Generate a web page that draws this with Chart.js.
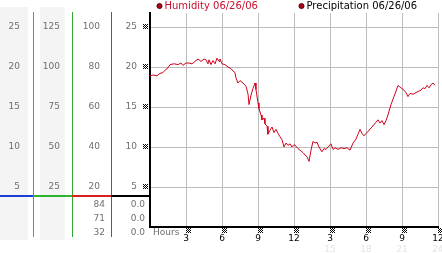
<!DOCTYPE html>
<html>
<head>
<meta charset="utf-8">
<script src="https://cdn.jsdelivr.net/npm/chart.js@4/dist/chart.umd.min.js"></script>
<style>
html,body{margin:0;padding:0;background:#fff;}
#wrap{width:442px;height:253px;position:relative;}
</style>
</head>
<body>
<div id="wrap"><canvas id="c" width="442" height="253"></canvas></div>
<script>
// ---- data ----
const hours = [0,0.25,0.58,0.83,1.08,1.25,1.5,1.67,2,2.33,2.58,2.75,3,3.25,3.5,3.75,4,4.25,4.5,4.67,4.83,4.92,5.08,5.25,5.42,5.58,5.75,5.83,6,6.25,6.5,6.75,6.92,7.08,7.17,7.33,7.5,7.75,8,8.17,8.25,8.42,8.58,8.75,8.83,9,9.08,9.25,9.33,9.5,9.58,9.75,9.83,10,10.17,10.33,10.5,10.67,10.83,11,11.17,11.33,11.5,11.67,11.83,12,12.17,12.33,12.5,12.75,12.92,13.08,13.25,13.42,13.58,13.75,13.92,14.08,14.33,14.5,14.67,14.83,15.08,15.25,15.42,15.67,15.92,16.17,16.42,16.67,16.92,17.17,17.33,17.5,17.67,17.83,18.5,19,19.17,19.33,19.5,19.67,19.83,20.08,20.33,20.5,20.67,20.83,21,21.17,21.33,21.5,21.67,21.92,22.17,22.42,22.58,22.75,22.92,23.08,23.25,23.42,23.58,23.75];
const humidity = [18.9,19.0,18.9,19.2,19.3,19.6,19.9,20.3,20.4,20.3,20.5,20.2,20.5,20.5,20.4,20.7,21.0,20.7,21.0,20.9,20.4,20.9,20.3,20.8,20.4,21.1,20.7,21.0,20.4,20.3,20.0,19.8,19.5,19.3,18.6,18.0,18.3,18.0,17.6,16.6,15.3,16.5,17.3,18.0,17.2,15.5,14.8,14.0,13.4,13.6,12.9,12.6,11.6,12.1,12.5,11.8,12.2,11.7,11.3,10.9,10.0,10.5,10.2,10.4,10.0,10.3,10.1,9.8,9.6,9.3,9.0,8.8,8.2,9.6,10.7,10.5,10.6,10.0,9.4,9.8,9.7,10.0,10.4,9.7,9.9,9.7,9.9,9.8,9.9,9.6,10.5,11.0,11.6,12.2,11.7,11.4,12.5,13.4,13.0,13.3,12.8,13.3,14.0,15.3,16.3,17.0,17.7,17.5,17.3,17.1,16.8,16.3,16.7,16.6,16.8,17.0,17.1,17.4,17.3,17.7,17.4,17.8,18.0,17.7];
const precipHours = [0, 24];
const precipitation = [0, 0];
const seriesLabels = ['Humidity 06/26/06', 'Precipitation 06/26/06'];
const yTicks = [5, 10, 15, 20, 25];
const xTicks = [0, 3, 6, 9, 12, 15, 18, 21, 24];
const humidityStats = [84, 71, 32];
const precipStats = [0.0, 0.0, 0.0];
const xTitle = 'Hours';

// ---- styling ----
const FONT = "'DejaVu Sans', sans-serif";
const GREY = '#6e6e6e';
const Y_MAX = 26.75;

function fixTicks(vals){ return (scale) => { scale.ticks = vals.map(v => ({value: v})); }; }
function noPad(s){ s.paddingTop = 0; s.paddingBottom = 0; s.paddingLeft = 0; s.paddingRight = 0; }
function sideAxis(mult, weight, width, pad){
  return {
    type: 'linear', position: 'left', weight: weight,
    min: 0, max: Y_MAX * mult,
    afterBuildTicks: fixTicks(yTicks.map(v => v * mult)),
    afterFit: (s) => { s.width = width; noPad(s); },
    grid: {display: false, drawTicks: false},
    border: {display: false},
    ticks: {color: GREY, font: {family: FONT, size: 9}, padding: pad}
  };
}

function glyph(ctx, x, y){
  ctx.fillStyle = '#000';
  for (let i = 0; i < 5; i++) for (let j = 0; j < 5; j++)
    if ((i + j) % 2 === 0) ctx.fillRect(x + i, y + j, 1, 1);
}

const panelPlugin = {
  id: 'panel',
  beforeDraw(chart){
    const ctx = chart.ctx, s = chart.scales;
    ctx.save();
    ctx.fillStyle = '#f4f4f4';
    ctx.fillRect(s.yA.left, 7, s.yA.width - 5, 233);
    ctx.fillRect(s.yB.left + 7, 7, s.yB.width - 14, 233);
    ctx.restore();
  },
  afterDraw(chart){
    const ctx = chart.ctx, s = chart.scales, ca = chart.chartArea;
    ctx.save();
    // side column divider lines
    [[s.yA, '#2f9fd0'], [s.yB, '#2ea82e'], [s.yC, '#c83030']].forEach(([sc, col]) => {
      ctx.fillStyle = col;
      ctx.fillRect(Math.round(sc.right), ca.top - 1, 1, ca.bottom - ca.top + 11);
    });
    // thick separator
    const sepY = Math.round(s.y.getPixelForValue(3.9)) - 1;
    [[0, s.yA.right, '#1a3fd6'], [s.yA.right, s.yB.right, '#2db52d'], [s.yB.right, s.yC.right, '#d62020'], [s.yC.right, ca.left, '#000']].forEach(([a, b, col]) => {
      ctx.fillStyle = col; ctx.fillRect(a, sepY, b - a, 2);
    });
    // stats rows
    ctx.font = '9px ' + FONT; ctx.fillStyle = GREY; ctx.textAlign = 'right'; ctx.textBaseline = 'middle';
    humidityStats.forEach((v, i) => {
      const yy = 205 + i * 13.7;
      ctx.fillText(String(v), s.yC.right - 6, yy);
      ctx.fillText(precipStats[i].toFixed(1), ca.left - 5, yy);
    });
    // glyph ticks
    yTicks.forEach(v => glyph(ctx, ca.left - 7, Math.round(s.y.getPixelForValue(v)) - 3));
    xTicks.filter(v => v > 0).forEach(v => glyph(ctx, Math.round(s.x.getPixelForValue(v)), ca.bottom + 1));
    // axis title
    ctx.fillStyle = GREY; ctx.textAlign = 'left'; ctx.font = '9px ' + FONT;
    ctx.fillText(xTitle, ca.left + 3, ca.bottom + 6);
    // legend
    ctx.font = '10px ' + FONT; ctx.textBaseline = 'middle';
    const items = [[159.5, '#c8102e'], [301.5, '#000']];
    items.forEach(([x, col], i) => {
      ctx.beginPath(); ctx.arc(x, 6, 2.6, 0, Math.PI * 2);
      ctx.fillStyle = '#b00018'; ctx.fill();
      ctx.strokeStyle = '#3a0000'; ctx.lineWidth = 0.8; ctx.stroke();
      ctx.fillStyle = col; ctx.fillText(seriesLabels[i], x + 5, 6.5);
    });
    ctx.restore();
  }
};

new Chart(document.getElementById('c'), {
  type: 'line',
  data: {
    datasets: [
      {label: seriesLabels[0], data: hours.map((h, i) => ({x: h, y: humidity[i]})),
       borderColor: '#d0021b', borderWidth: 1, pointRadius: 0, tension: 0, yAxisID: 'y', xAxisID: 'x'},
      {label: seriesLabels[1], data: precipHours.map((h, i) => ({x: h, y: precipitation[i]})),
       borderColor: '#000', borderWidth: 0, showLine: false, pointRadius: 0, yAxisID: 'y', xAxisID: 'x'}
    ]
  },
  options: {
    responsive: false, animation: false, devicePixelRatio: 1,
    layout: {padding: {left: 0, right: 4, top: 13, bottom: 0}},
    plugins: {legend: {display: false}, tooltip: {enabled: false}},
    scales: {
      x: {
        type: 'linear', position: 'bottom', weight: 0, min: 0, max: 24,
        afterBuildTicks: fixTicks(xTicks),
        afterFit: (s) => { s.height = 16; noPad(s); },
        grid: {color: '#bdbdbd', drawTicks: false},
        border: {color: '#000', width: 2},
        ticks: {color: '#000', font: {family: FONT, size: 9}, padding: 6, maxRotation: 0,
                callback: (v) => v === 0 ? '' : String((v - 1) % 12 + 1)}
      },
      x2: {
        type: 'linear', position: 'bottom', weight: 1, min: 0, max: 24,
        afterBuildTicks: fixTicks(xTicks),
        afterFit: (s) => { s.height = 10; noPad(s); },
        grid: {display: false, drawTicks: false},
        border: {display: false},
        ticks: {color: '#e4e4e4', font: {family: FONT, size: 9}, padding: 1, maxRotation: 0,
                callback: (v) => v >= 15 ? String(v) : ''}
      },
      y: {
        type: 'linear', position: 'left', weight: 0, min: 0, max: Y_MAX,
        afterBuildTicks: fixTicks(yTicks),
        afterFit: (s) => { s.width = 39; noPad(s); },
        grid: {color: '#bdbdbd', drawTicks: false},
        border: {color: '#000', width: 2},
        ticks: {color: GREY, font: {family: FONT, size: 9}, padding: 13}
      },
      yC: sideAxis(4, 1, 39, 11),
      yB: sideAxis(5, 2, 39, 12),
      yA: sideAxis(1, 3, 33, 13)
    }
  },
  plugins: [panelPlugin]
});
</script>
</body>
</html>
